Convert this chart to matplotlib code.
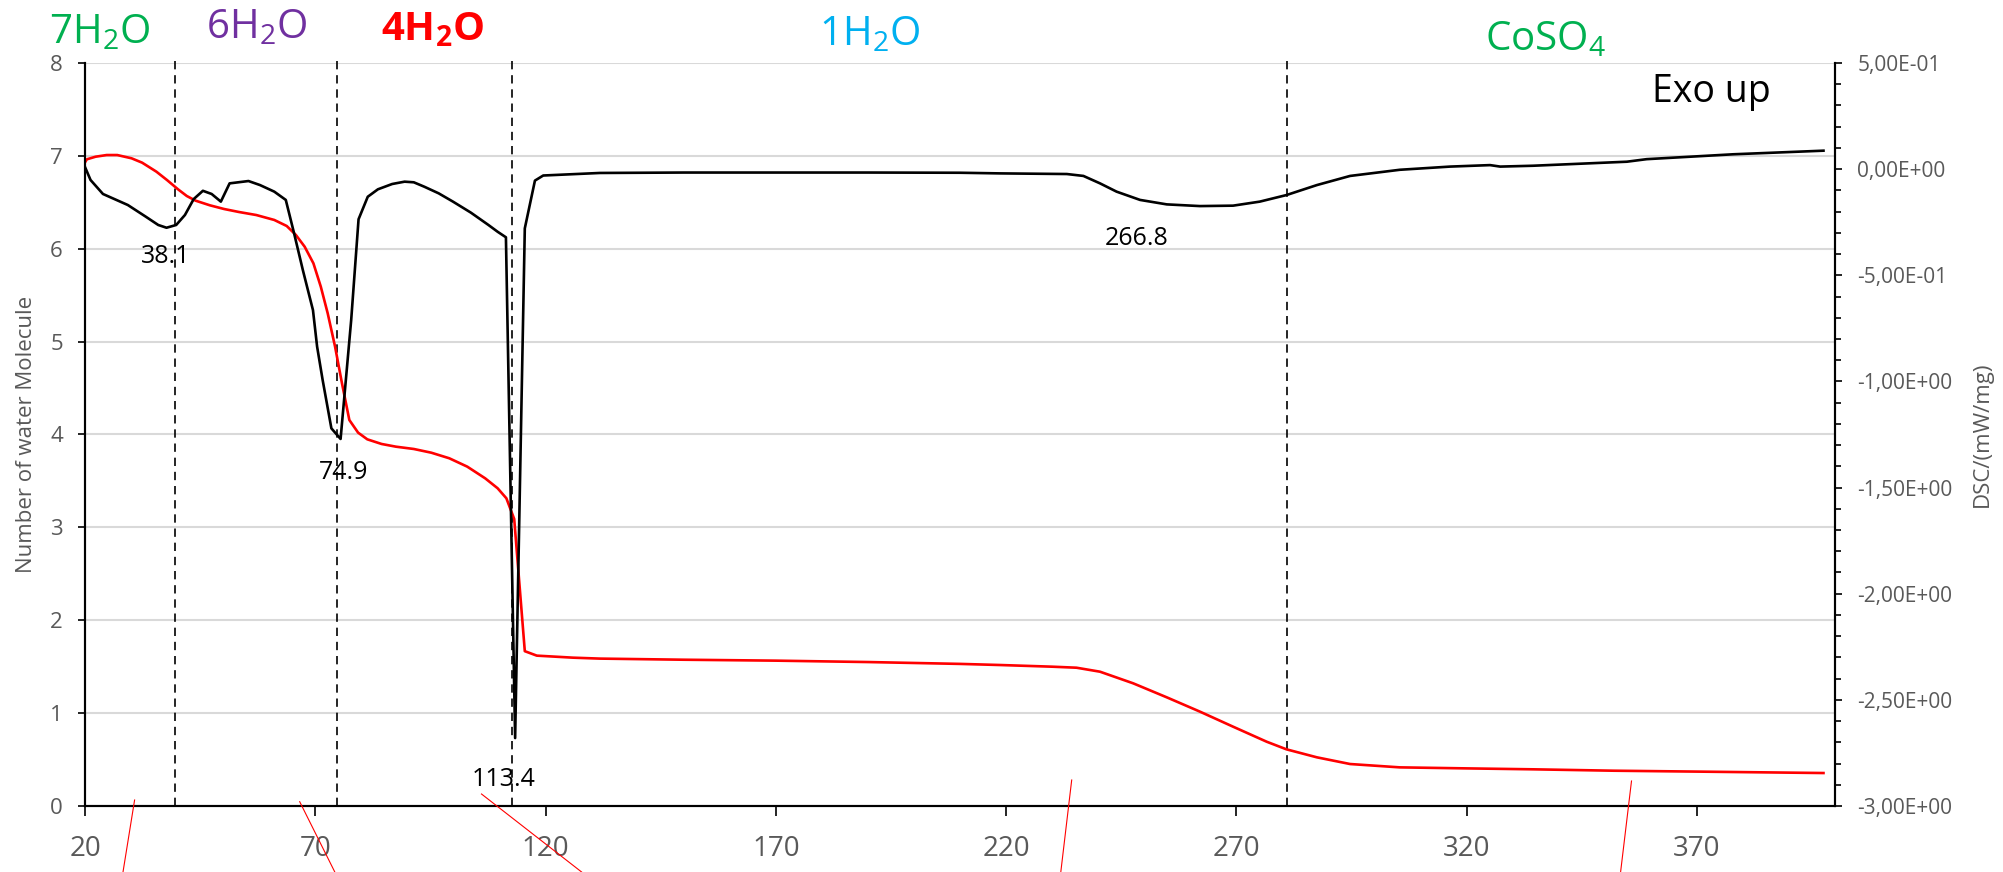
import matplotlib
matplotlib.use("Agg")
import matplotlib.pyplot as plt
from matplotlib.lines import Line2D
from matplotlib.ticker import MultipleLocator, FuncFormatter

plt.rcParams['font.family'] = ['Open Sans', 'DejaVu Sans']
plt.rcParams['mathtext.fontset'] = 'custom'
plt.rcParams['mathtext.rm'] = 'Open Sans'
plt.rcParams['mathtext.bf'] = 'Open Sans:bold'

# DSC curve (right axis, mW/mg)
temp_dsc = [20.0, 21.2, 23.9, 29.3, 33.2, 35.9, 37.7, 39.8, 41.7, 43.6, 45.6, 47.5,
            49.5, 51.4, 55.5, 58.0, 61.1, 63.6, 65.4, 67.3, 69.5, 70.4, 71.6, 73.5,
            75.5, 77.8, 79.4, 81.4, 83.6, 86.7, 89.4, 91.4, 93.7, 96.8, 99.9, 103.8,
            107.6, 109.6, 111.4, 113.4, 115.5, 117.7, 119.5, 131.8, 150, 170, 190, 210,
            218.7, 233.2, 236.8, 240.4, 244.0, 249.1, 254.9, 262.1, 269.3, 275.1,
            280.9, 287.5, 294.7, 305.5, 316.4, 325.1, 327.3, 334.4, 354.8, 359.1,
            377.9, 397.5]
dsc = [0.01, -0.051, -0.117, -0.169, -0.224, -0.263, -0.276, -0.263, -0.216, -0.141,
       -0.102, -0.117, -0.153, -0.067, -0.056, -0.075, -0.106, -0.145, -0.302, -0.475,
       -0.664, -0.836, -0.993, -1.221, -1.271, -0.711, -0.236, -0.130, -0.095, -0.070,
       -0.059, -0.062, -0.083, -0.114, -0.153, -0.205, -0.263, -0.295, -0.321, -2.68,
       -0.279, -0.054, -0.030, -0.018, -0.016, -0.016, -0.016, -0.017, -0.020, -0.023,
       -0.032, -0.067, -0.106, -0.145, -0.166, -0.174, -0.172, -0.153, -0.122, -0.075,
       -0.032, -0.003, 0.012, 0.019, 0.012, 0.016, 0.035, 0.047, 0.070, 0.087]

# TG curve converted to number of water molecules (left axis)
temp_tg = [20.0, 20.4, 22.3, 24.7, 27.0, 30.1, 32.4, 35.5, 37.8, 40.2, 42.1, 44.0,
           47.1, 50.2, 53.4, 57.2, 61.1, 63.8, 65.8, 67.7, 69.6, 71.2, 72.7, 74.3,
           75.8, 77.4, 79.3, 81.3, 84.4, 87.5, 91.4, 95.2, 99.1, 103.0, 106.9, 109.6,
           111.5, 113.2, 115.5, 118.1, 126.0, 131.8, 150, 170, 190, 210, 218.7, 230,
           235.3, 240.4, 247.6, 254.9, 262.1, 269.3, 276.6, 280.9, 287.5, 294.7,
           305.5, 320.0, 334.4, 351.9, 370.7, 397.5]
water = [6.93, 6.963, 6.991, 7.009, 7.009, 6.974, 6.927, 6.830, 6.740, 6.640, 6.568,
         6.518, 6.468, 6.428, 6.396, 6.363, 6.310, 6.245, 6.148, 6.022, 5.843, 5.592,
         5.305, 4.946, 4.551, 4.156, 4.020, 3.948, 3.898, 3.869, 3.844, 3.804, 3.744,
         3.654, 3.528, 3.421, 3.313, 3.09, 1.667, 1.619, 1.597, 1.587, 1.575, 1.565,
         1.55, 1.53, 1.518, 1.50, 1.489, 1.446, 1.321, 1.170, 1.016, 0.854, 0.692,
         0.610, 0.524, 0.452, 0.416, 0.405, 0.395, 0.380, 0.370, 0.355]

boundaries = [39.5, 74.7, 112.8, 281.0]
peak_labels = ["38.1", "74.9", "113.4", "266.8"]
peak_text_pos = [(37.5, 5.85), (76.2, 3.52), (110.8, 0.22), (248.3, 6.04)]

phase_labels = ["7H$_2$O", "6H$_2$O", r"4H$_\mathbf{2}$O", "1H$_2$O", "CoSO$_4$"]
phase_colors = ["#00B050", "#7030A0", "#FF0000", "#00B0F0", "#00B050"]
phase_weights = ["normal", "normal", "bold", "normal", "normal"]
phase_pos = [(100, 43), (257, 38), (433, 40), (870, 45), (1545, 50)]  # pixels

W, H = 2003, 872
fig = plt.figure(figsize=(W / 100, H / 100), dpi=100)
ax = fig.add_axes([85 / W, 1 - 806 / H, 1750 / W, 743 / H])
ax2 = ax.twinx()

gray = "#595959"

ax.set_xlim(20, 400)
ax.set_ylim(0, 8)
ax2.set_ylim(-3, 0.5)
ax.set_xticks(range(20, 400, 50))
ax.yaxis.set_major_locator(MultipleLocator(1))
ax2.yaxis.set_major_locator(MultipleLocator(0.5))
ax2.yaxis.set_minor_locator(MultipleLocator(0.1))
ax2.yaxis.set_major_formatter(FuncFormatter(lambda v, p: f"{v:.2E}".replace(".", ",")))

ax.yaxis.grid(True, color="#D9D9D9", lw=1.5)
ax.set_axisbelow(True)

for a in (ax, ax2):
    a.spines['top'].set_visible(False)
    for s in ('left', 'right', 'bottom'):
        a.spines[s].set_linewidth(1.5)
        a.spines[s].set_color('black')

ax.tick_params(axis='x', direction='out', length=7, width=1.2, labelsize=20,
               labelcolor=gray, pad=14)
ax.tick_params(axis='y', direction='out', length=5, width=1.2, labelsize=16,
               labelcolor=gray, pad=11)
ax2.tick_params(axis='y', which='major', direction='out', length=5, width=1.2,
                labelsize=15, labelcolor=gray, pad=11)
ax2.tick_params(axis='y', which='minor', direction='out', length=4, width=1.2)

ax.set_ylabel("Number of water Molecule", fontsize=16, color=gray)
ax.yaxis.set_label_coords(-0.0274, 0.5)
ax2.set_ylabel("DSC/(mW/mg)", fontsize=16, color=gray)
ax2.yaxis.set_label_coords(1.0783, 0.5)

# vertical phase boundaries
for b in boundaries:
    ax.plot([b, b], [0, 8.06], color="black", lw=1.2, ls=(0, (5, 3.5)),
            clip_on=False, zorder=3)

ax.plot(temp_tg, water, color="#FF0000", lw=1.9, zorder=4)
ax2.plot(temp_dsc, dsc, color="black", lw=1.9, zorder=5)

for lab, (tx, ty) in zip(peak_labels, peak_text_pos):
    ax.text(tx, ty, lab, fontsize=18, color="black", ha="center", va="baseline",
            zorder=6)

for lab, col, wt, (px, py) in zip(phase_labels, phase_colors, phase_weights, phase_pos):
    fig.text(px / W, 1 - py / H, lab, color=col, fontsize=29, fontweight=wt,
             ha="center", va="baseline")

fig.text(1652 / W, 1 - 102 / H, "Exo up", fontsize=27, color="black",
         ha="left", va="baseline")

# stray red leader lines crossing the x axis
leaders = [((134.6, 800), (123, 872)), ((299.7, 801.7), (334.8, 872)),
           ((481.5, 794), (581.6, 872)), ((1071.7, 780), (1060.8, 872)),
           ((1631.5, 781), (1620.6, 872))]
for (x0, y0), (x1, y1) in leaders:
    fig.add_artist(Line2D([x0 / W, x1 / W], [1 - y0 / H, 1 - y1 / H],
                          transform=fig.transFigure, color="red", lw=0.8))

fig.savefig("out.png", dpi=100)
